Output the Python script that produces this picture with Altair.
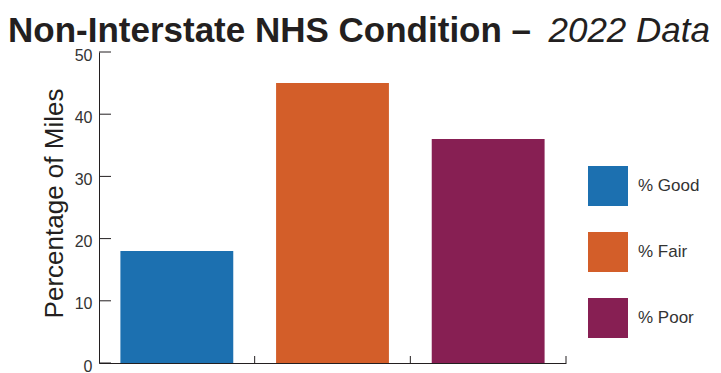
import altair as alt
import pandas as pd

# ---- data ----
categories = ["% Good", "% Fair", "% Poor"]
values = [18, 45, 36]
colors = ["#1c70b0", "#d35e29", "#871f53"]
y_ticks = [0, 10, 20, 30, 40, 50]
title_main = ["Non-Interstate NHS Condition –"]
title_italic = ["2022 Data"]
y_title = "Percentage of Miles"

W, H = 467, 311
INK = "#231f20"
SANS = "Liberation Sans, Arial, Helvetica, sans-serif"
P_INNER = 0.275
STEP = W / (len(categories) - P_INNER + 2 * P_INNER / 2)

bars_df = pd.DataFrame({"cat": categories, "pct": values})
ticks_df = pd.DataFrame({"pct": y_ticks})
xticks_df = pd.DataFrame({"cat": categories})
title_df = pd.DataFrame({"main": title_main, "ital": title_italic})

yscale = alt.Scale(domain=[0, 50], nice=False, zero=True)
xscale = alt.Scale(paddingInner=P_INNER, paddingOuter=P_INNER / 2)
yaxis = alt.Axis(
    title=y_title, values=y_ticks, ticks=False, tickSize=0, grid=False,
    labelPadding=7, labelOffset=3, labelFont=SANS, labelFontSize=16, labelColor="#333333",
    domainColor=INK, domainWidth=1,
    titleFont=SANS, titleFontSize=26, titleFontWeight="normal", titleColor=INK,
    titleX=-37, titleY=151, titleAngle=270, titleBaseline="alphabetic", titleAlign="center",
)
xaxis = alt.Axis(orient="bottom", labels=False, ticks=False, title=None, grid=False,
                 domainColor=INK, domainWidth=1)

bars = alt.Chart(bars_df).mark_bar().encode(
    x=alt.X("cat:N", sort=categories, scale=xscale, axis=xaxis),
    y=alt.Y("pct:Q", scale=yscale, axis=yaxis),
    color=alt.Color(
        "cat:N", scale=alt.Scale(domain=categories, range=colors),
        legend=alt.Legend(title=None, orient="none", legendX=489, legendY=114,
                          symbolType="square", symbolSize=1600, symbolStrokeWidth=0,
                          symbolOpacity=1, labelFont=SANS, labelFontSize=17,
                          labelColor="#333333", labelOffset=10, rowPadding=26, padding=0),
    ),
)

# inward ticks on the y axis
yticks = alt.Chart(ticks_df).mark_rule(color=INK, strokeWidth=1).encode(
    y=alt.Y("pct:Q", scale=yscale, axis=yaxis),
    x=alt.value(0), x2=alt.value(12),
)

# inward ticks on the x axis, at the right edge of each category step
xticks = alt.Chart(xticks_df).mark_rule(
    color=INK, strokeWidth=1, xOffset=STEP * P_INNER / 2
).encode(
    x=alt.X("cat:N", sort=categories, scale=xscale, axis=xaxis, bandPosition=1),
    y=alt.value(H), y2=alt.value(H - 7),
)

t1 = alt.Chart(title_df).mark_text(
    align="left", baseline="alphabetic", font=SANS, fontSize=35,
    fontWeight="bold", color=INK,
).encode(x=alt.value(-91), y=alt.value(-10), text="main:N")

t2 = alt.Chart(title_df).mark_text(
    align="right", baseline="alphabetic", font=SANS, fontSize=35,
    fontStyle="italic", fontWeight="normal", color=INK,
).encode(x=alt.value(611), y=alt.value(-10), text="ital:N")

chart = alt.layer(bars, yticks, xticks, t1, t2).properties(
    width=W, height=H,
    padding={"left": 91, "top": 44, "right": 146, "bottom": 10},
    autosize=alt.AutoSizeParams(type="none"),
).configure_view(stroke=None)

chart.save("out.html", embed_options={"renderer": "svg", "actions": False})
